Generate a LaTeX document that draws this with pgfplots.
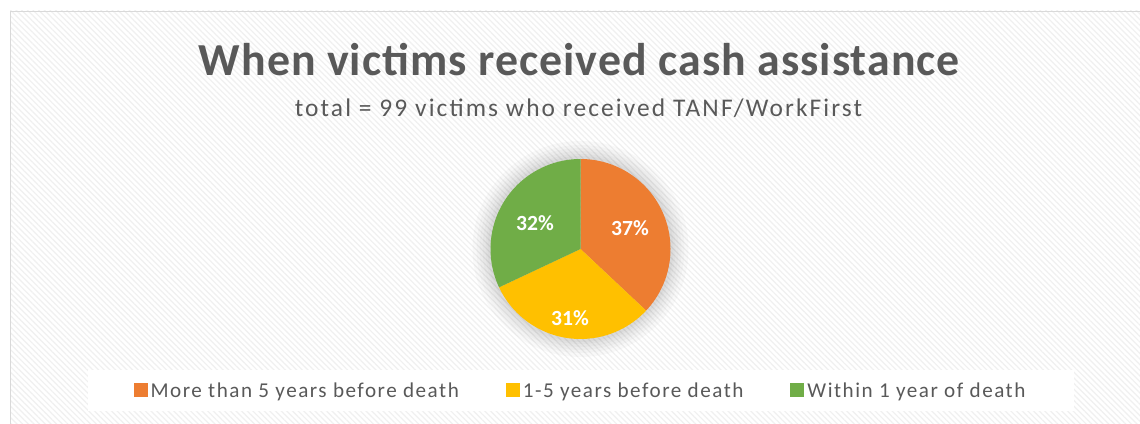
\documentclass[border=0pt]{standalone}
\usepackage{pgfplots}
\pgfplotsset{compat=1.18}
\usepackage{pgfplotstable}
\usepackage{fontspec}
\setmainfont{Carlito}
\usetikzlibrary{patterns.meta}
\definecolor{cOrange}{HTML}{ED7D31}
\definecolor{cYellow}{HTML}{FFC000}
\definecolor{cGreen}{HTML}{70AD47}
\definecolor{cText}{HTML}{595959}
\definecolor{cStripe}{HTML}{F0F0F0}

\pgfplotstableread{
label value
More 37
Mid 31
Within 32
}\piedata
\pgfplotstablegetelem{0}{value}\of\piedata \let\vA\pgfplotsretval
\pgfplotstablegetelem{1}{value}\of\piedata \let\vB\pgfplotsretval
\pgfplotstablegetelem{2}{value}\of\piedata \let\vC\pgfplotsretval
\pgfmathsetmacro\tot{\vA+\vB+\vC}
\pgfmathsetmacro\aA{\vA/\tot*360}
\pgfmathsetmacro\aB{(\vA+\vB)/\tot*360}

\def\cx{580.5}
\def\cy{175}
\def\rr{90}

\begin{document}
\begin{tikzpicture}
\begin{axis}[
  hide axis, scale only axis, width=1140bp, height=424bp,
  xmin=0, xmax=1140, ymin=0, ymax=424, clip=false,
  legend columns=3,
  legend image code/.code={\fill[#1] (0bp,-7bp) rectangle (14bp,7bp);},
  legend style={at={(axis cs:581,33.5)}, anchor=center, draw=none, fill=white,
    inner xsep=46bp, inner ysep=10bp,
    font=\fontsize{21.2}{24}\selectfont\addfontfeature{LetterSpace=7.2}, text=cText,
    nodes={inner xsep=3bp, inner ysep=2bp},
    /tikz/every even column/.append style={column sep=44bp}},
]
\coordinate (BL) at (0,0);
\coordinate (TR) at (1140,424);
% background
\fill[white] (10,0) rectangle (1140,413);
\fill[pattern={Lines[angle=-45, distance=4bp, line width=1.2bp]}, pattern color=cStripe] (10,0) rectangle (1140,413);
\draw[black!15, line width=1bp] (10.5,0) -- (10.5,412.5) -- (1140,412.5);
% glow
\fill[black, opacity=0.025] (\cx,\cy) circle[radius=108];
\fill[black, opacity=0.025] (\cx,\cy) circle[radius=104];
\fill[black, opacity=0.025] (\cx,\cy) circle[radius=101];
\fill[black, opacity=0.025] (\cx,\cy) circle[radius=98];
\fill[black, opacity=0.025] (\cx,\cy) circle[radius=95];
\fill[black, opacity=0.025] (\cx,\cy) circle[radius=93];
% slices
\addplot[draw=none, fill=cOrange, domain=0:\aA, samples=90, variable=\t]
  ({\cx+\rr*sin(t)},{\cy+\rr*cos(t)}) -- (\cx,\cy) -- cycle;
\addplot[draw=none, fill=cYellow, domain=\aA:\aB, samples=90, variable=\t]
  ({\cx+\rr*sin(t)},{\cy+\rr*cos(t)}) -- (\cx,\cy) -- cycle;
\addplot[draw=none, fill=cGreen, domain=\aB:360, samples=90, variable=\t]
  ({\cx+\rr*sin(t)},{\cy+\rr*cos(t)}) -- (\cx,\cy) -- cycle;
\legend{More than 5 years before death, 1-5 years before death, Within 1 year of death}
% labels
\node[text=white, font=\bfseries\fontsize{21.7}{26}\selectfont] at (630,196) {\vA\%};
\node[text=white, font=\bfseries\fontsize{21.7}{26}\selectfont] at (570,106) {\vB\%};
\node[text=white, font=\bfseries\fontsize{21.7}{26}\selectfont] at (535,201) {\vC\%};
% titles
\node[anchor=base, text=cText, font=\bfseries\fontsize{46}{52}\selectfont\addfontfeature{LetterSpace=2.3}] at (579.5,348) {When victims received cash assistance};
\node[anchor=base, text=cText, font=\fontsize{25.5}{30}\selectfont\addfontfeature{LetterSpace=8.3}] at (578.5,307) {total = 99 victims who received TANF/WorkFirst};
\end{axis}
\pgfresetboundingbox
\useasboundingbox (BL) rectangle (TR);
\end{tikzpicture}
\end{document}
